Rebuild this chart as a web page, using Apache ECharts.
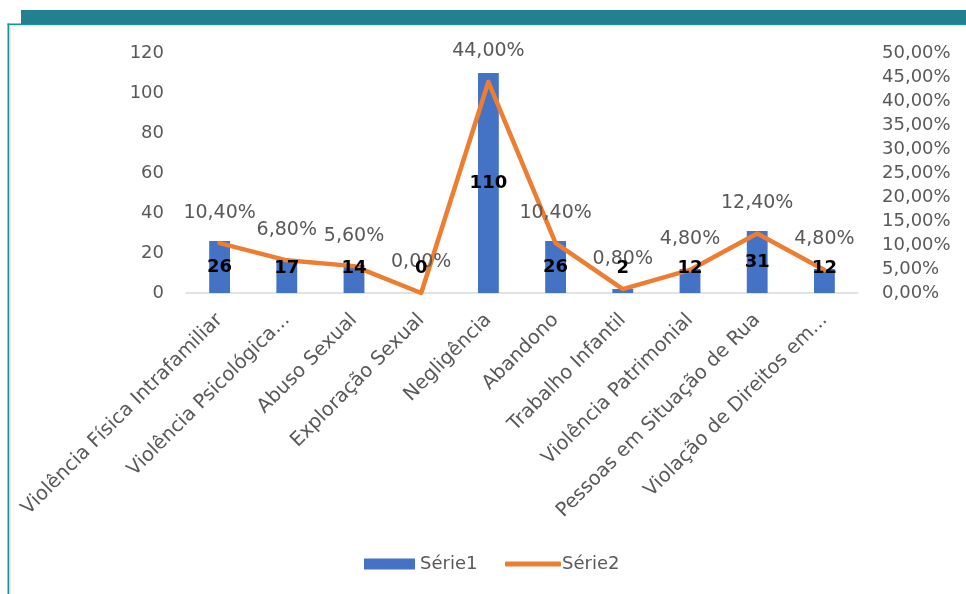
<!DOCTYPE html>
<html>
<head>
<meta charset="utf-8">
<script src="https://cdn.jsdelivr.net/npm/echarts@6/dist/echarts.min.js"></script>
<style>
html,body{margin:0;padding:0;background:#fff;}
#c{width:966px;height:594px;}
</style>
</head>
<body>
<div id="c"></div>
<script>
var categories = ["Violência Física Intrafamiliar","Violência Psicológica...","Abuso Sexual","Exploração Sexual","Negligência","Abandono","Trabalho Infantil","Violência Patrimonial","Pessoas em Situação de Rua","Violação de Direitos em..."];
var serie1 = [26, 17, 14, 0, 110, 26, 2, 12, 31, 12];
var serie2 = [10.4, 6.8, 5.6, 0, 44, 10.4, 0.8, 4.8, 12.4, 4.8];
var seriesNames = ["Série1", "Série2"];

var chart = echarts.init(document.getElementById('c'));
var font = "DejaVu Sans";
var gray = "#595959";
function pct(v){ return v.toFixed(2).replace('.', ',') + '%'; }
function barLabelData(){
  return serie1.map(function(v){
    return {value: v, label: v < 26 ? {position: 'insideBottom', distance: 16} : {position: 'inside'}};
  });
}

chart.setOption({
  animation: false,
  textStyle: {fontFamily: font},
  graphic: [
    {type: 'rect', shape: {x: 21, y: 10, width: 945, height: 14}, style: {fill: '#22808f'}, z: 10},
    {type: 'rect', shape: {x: 7.5, y: 23.5, width: 960, height: 1.6}, style: {fill: '#179393'}, z: 9},
    {type: 'rect', shape: {x: 9.5, y: 25.3, width: 960, height: 1.2}, style: {fill: '#dcdcdc'}, z: 9},
    {type: 'rect', shape: {x: 7.5, y: 23.5, width: 1.8, height: 580}, style: {fill: '#179393'}, z: 9},
    {type: 'rect', shape: {x: 9.5, y: 25.3, width: 1.2, height: 580}, style: {fill: '#dcdcdc'}, z: 9}
  ],
  grid: {left: 186, right: 108, top: 53, bottom: 301, containLabel: false},
  legend: [
    {
      left: 364, top: 555, padding: 0,
      itemWidth: 51, itemHeight: 11, itemGap: 8,
      textStyle: {color: gray, fontSize: 18, fontFamily: font},
      data: [{name: seriesNames[0], icon: 'rect'}]
    },
    {
      left: 505, top: 555, padding: 0,
      itemWidth: 56, itemHeight: 5, itemGap: 2,
      textStyle: {color: gray, fontSize: 18, fontFamily: font, padding: [0, 0, 0, -4]},
      data: [{name: seriesNames[1], icon: 'roundRect'}]
    }
  ],
  xAxis: {
    type: 'category',
    data: categories,
    axisLine: {lineStyle: {color: '#d9d9d9', width: 1.5}},
    axisTick: {show: false},
    axisLabel: {rotate: 45, color: gray, fontSize: 19.5, fontFamily: font, interval: 0, margin: 24, padding: [22, 0, 0, 0]}
  },
  yAxis: [
    {
      type: 'value', min: 0, max: 120, interval: 20,
      splitLine: {show: false},
      axisLine: {show: false}, axisTick: {show: false},
      axisLabel: {color: gray, fontSize: 18, fontFamily: font, margin: 22}
    },
    {
      type: 'value', min: 0, max: 50, interval: 5,
      splitLine: {show: false},
      axisLine: {show: false}, axisTick: {show: false},
      axisLabel: {color: gray, fontSize: 18, fontFamily: font, margin: 24, formatter: pct}
    }
  ],
  series: [
    {
      name: seriesNames[0],
      type: 'bar',
      barWidth: '31%',
      itemStyle: {color: '#4472c4'},
      data: serie1,
      z: 2
    },
    {
      name: seriesNames[1],
      type: 'line',
      yAxisIndex: 1,
      data: serie2,
      symbol: 'circle',
      symbolSize: 0,
      showSymbol: true,
      lineStyle: {color: '#ed7d31', width: 4.5, cap: 'round', join: 'round'},
      itemStyle: {color: '#ed7d31'},
      label: {show: true, position: 'top', distance: 21, color: gray, fontSize: 19, fontFamily: font, formatter: function(p){ return pct(p.value); }},
      z: 3
    },
    {
      name: 'labels1',
      type: 'bar',
      barWidth: '31%',
      barGap: '-100%',
      itemStyle: {color: 'rgba(0,0,0,0)'},
      data: barLabelData(),
      label: {show: true, color: '#000', fontWeight: 'bold', fontSize: 18, fontFamily: font},
      silent: true,
      z: 5
    }
  ]
});
</script>
</body>
</html>
